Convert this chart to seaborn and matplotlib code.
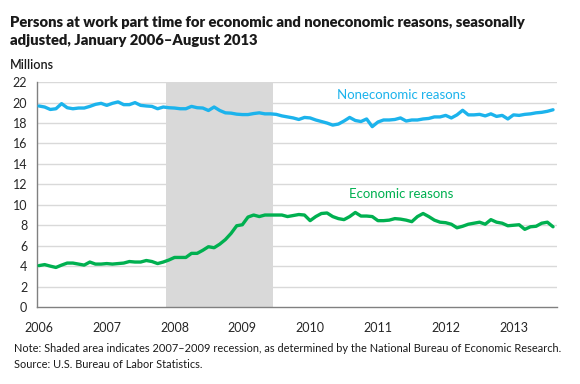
import pandas as pd
import seaborn as sns
import matplotlib.pyplot as plt

# Monthly values, Jan 2006 - Aug 2013 (millions)
months = pd.date_range("2006-01-01", "2013-08-01", freq="MS")

economic = [
    4.05, 4.15, 4.0, 3.87, 4.1, 4.3, 4.3, 4.2, 4.1, 4.4, 4.2, 4.2,
    4.25, 4.2, 4.25, 4.3, 4.45, 4.4, 4.4, 4.55, 4.45, 4.25, 4.4, 4.6,
    4.85, 4.85, 4.85, 5.25, 5.25, 5.55, 5.9, 5.8, 6.15, 6.6, 7.2, 7.95,
    8.05, 8.8, 9.0, 8.85, 9.0, 9.0, 9.0, 9.0, 8.85, 8.95, 9.05, 9.0,
    8.45, 8.85, 9.15, 9.2, 8.85, 8.65, 8.55, 8.85, 9.25, 8.9, 8.9, 8.85,
    8.45, 8.45, 8.5, 8.65, 8.6, 8.5, 8.35, 8.85, 9.15, 8.85, 8.5, 8.3,
    8.25, 8.1, 7.75, 7.9, 8.1, 8.2, 8.3, 8.1, 8.55, 8.3, 8.2, 7.95,
    8.0, 8.05, 7.6, 7.85, 7.9, 8.2, 8.3, 7.85,
]

noneconomic = [
    19.67, 19.57, 19.33, 19.4, 19.9, 19.5, 19.4, 19.47, 19.47, 19.63, 19.83, 19.93,
    19.73, 19.93, 20.07, 19.8, 19.8, 20.0, 19.73, 19.67, 19.63, 19.4, 19.57, 19.5,
    19.47, 19.4, 19.4, 19.63, 19.5, 19.47, 19.23, 19.57, 19.23, 19.0, 18.97, 18.87,
    18.83, 18.83, 18.93, 19.0, 18.9, 18.9, 18.85, 18.7, 18.6, 18.5, 18.35, 18.55,
    18.5, 18.3, 18.15, 18.0, 17.8, 17.9, 18.2, 18.55, 18.25, 18.15, 18.4, 17.65,
    18.1, 18.3, 18.3, 18.35, 18.5, 18.2, 18.3, 18.3, 18.4, 18.45, 18.6, 18.6,
    18.75, 18.5, 18.8, 19.25, 18.8, 18.8, 18.85, 18.7, 18.9, 18.65, 18.75, 18.4,
    18.8, 18.75, 18.85, 18.9, 19.0, 19.05, 19.15, 19.3,
]

year_labels = ["2006", "2007", "2008", "2009", "2010", "2011", "2012", "2013"]
y_ticks = list(range(0, 23, 2))

df = pd.DataFrame({"m": range(len(months)), "economic": economic, "noneconomic": noneconomic})

sns.set_style("white")
plt.rcParams["font.family"] = ["Lato", "DejaVu Sans"]

fig = plt.figure(figsize=(5.8, 3.84), dpi=100)
ax = fig.add_axes([0.0638, 0.2005, 0.8965, 0.5855])

# recession shading Dec 2007 - Jun 2009
ax.axvspan(22.5, 41.5, color="#d9d9d9", lw=0, zorder=0)

for y in y_ticks[1:]:
    ax.axhline(y, color="#d9d9d9", lw=1, zorder=1)

sns.lineplot(data=df, x="m", y="noneconomic", color="#1cb3ec", lw=2.4, ax=ax, zorder=3)
sns.lineplot(data=df, x="m", y="economic", color="#00b050", lw=2.4, ax=ax, zorder=3)

ax.text(64.2, 20.75, "Noneconomic reasons", color="#1cb3ec", fontsize=9.5, ha="center", va="center")
ax.text(64.2, 11.1, "Economic reasons", color="#00b050", fontsize=9.5, ha="center", va="center")

ax.set_xlim(-0.35, 91.7)
ax.set_ylim(0, 22)
ax.set_yticks(y_ticks)
ax.set_yticklabels([str(v) for v in y_ticks], fontsize=9)
ax.set_xticks(range(0, 92, 12))
ax.set_xticklabels(year_labels, fontsize=9)
ax.set_xticks(range(0, 92), minor=True)
ax.tick_params(axis="x", which="both", direction="out", length=3, color="#808080", pad=8)
ax.tick_params(axis="y", direction="out", length=3, color="#808080", pad=4)
ax.set_xlabel("")
ax.set_ylabel("")

for side in ["top", "right"]:
    ax.spines[side].set_visible(False)
for side in ["left", "bottom"]:
    ax.spines[side].set_color("#808080")
    ax.spines[side].set_linewidth(1)

fig.text(0.017, 0.958, "Persons at work part time for economic and noneconomic reasons, seasonally\nadjusted, January 2006\u2013August 2013",
         fontsize=10.6, fontweight="heavy", va="top", ha="left", linespacing=1.45, color="#1a1a1a")
fig.text(0.017, 0.83, "Millions", fontsize=9, fontweight="semibold", va="center", ha="left", color="#1a1a1a")
fig.text(0.024, 0.093, "Note: Shaded area indicates 2007\u20132009 recession, as determined by the National Bureau of Economic Research.",
         fontsize=7.95, va="center", ha="left", color="#1a1a1a")
fig.text(0.024, 0.05, "Source: U.S. Bureau of Labor Statistics.", fontsize=7.95, va="center", ha="left", color="#1a1a1a")

plt.savefig("out.png", dpi=100)
